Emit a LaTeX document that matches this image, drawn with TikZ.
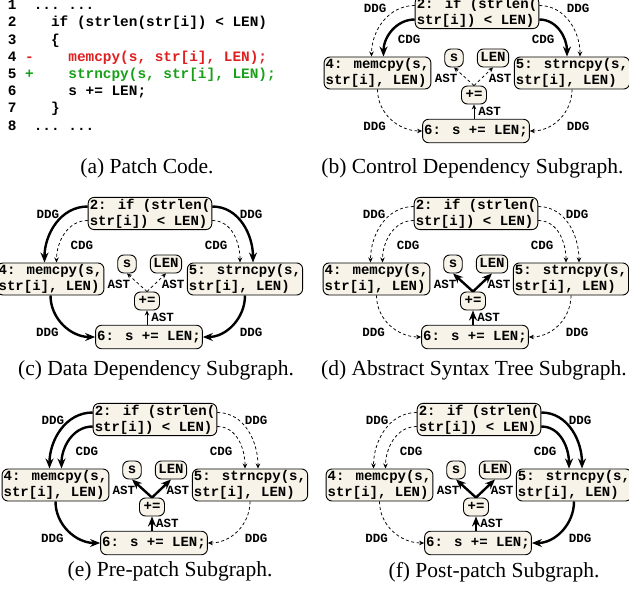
\documentclass[tikz,border=0pt]{standalone}
\usepackage{fontspec}
\setmainfont{Liberation Serif}
\newfontfamily\monofam{Liberation Mono}
\usetikzlibrary{arrows.meta}
\definecolor{nodefill}{RGB}{247,243,232}
\definecolor{delred}{RGB}{224,32,32}
\definecolor{addgreen}{RGB}{24,160,24}
\newcommand\nodefont{\monofam\bfseries\fontsize{14}{16}\selectfont}
\newcommand\lblfont{\monofam\bfseries\fontsize{12.5}{13}\selectfont}
\newcommand\codefont{\monofam\bfseries\fontsize{14.4}{17.2}\selectfont}
\newcommand\capfont{\fontsize{21.5}{24}\selectfont}
\tikzset{
 stmt/.style={draw=black, line width=0.9pt, fill=nodefill, rounded corners=6pt, font=\nodefont, inner xsep=1.6pt, inner ysep=1.5pt},
 stmtone/.style={stmt, text height=10.5pt, text depth=3pt, inner ysep=5pt},
 leafbox/.style={stmt, text height=10pt, text depth=3pt, inner ysep=2.5pt, inner xsep=3pt},
 lbl/.style={font=\lblfont, inner sep=0pt},
 hiedge/.style={line width=2.4pt, -{Stealth[length=10pt,width=8pt]}},
 loedge/.style={line width=0.75pt, dash pattern=on 3pt off 2.5pt, -{Stealth[length=5pt,width=4.5pt]}},
 loplain/.style={line width=0.75pt, -{Stealth[length=5pt,width=4.5pt]}},
 codeline/.style={anchor=base west, inner sep=0pt, font=\codefont},
 subcap/.style={font=\capfont, inner sep=0pt},
}
\newcommand\graphpanel[2]{%
 \node[stmt, align=left] (#1n2) at (150,{213.5+#2}) {2: if (strlen(\\str[i]) < LEN)};
 \node[stmt, align=left] (#1n4) at (50.5,279) {4: memcpy(s,\\str[i], LEN)};
 \node[stmt, align=left] (#1n5) at (245,279) {5: strncpy(s,\\str[i], LEN)};
 \node[leafbox, minimum width=18.5pt] (#1s) at (127,264) {s};
 \node[leafbox] (#1len) at (166,264) {LEN};
 \node[leafbox, minimum width=25pt] (#1plus) at (147,301) {+=};
 \node[stmtone] (#1n6) at (149,337) {6: s += LEN;};
 \draw[eLddg] ([yshift=7pt]#1n2.west) to[out=180,in=90] ([xshift=-6pt]#1n4.north);
 \draw[eLcdg] ([yshift=-7pt]#1n2.west) to[out=180,in=90] ([xshift=6pt]#1n4.north);
 \draw[eRcdg] ([yshift=-7pt]#1n2.east) to[out=0,in=90] ([xshift=-5pt]#1n5.north);
 \draw[eRddg] ([yshift=7pt]#1n2.east) to[out=0,in=90] ([xshift=8pt]#1n5.north);
 \draw[eLbot] (#1n4.south) to[out=-90,in=180] (#1n6.west);
 \draw[eRbot] (#1n5.south) to[out=-90,in=0] (#1n6.east);
 \draw[eAST] (#1plus.north) -- (#1s.south);
 \draw[eAST] (#1plus.north) -- (#1len.south);
 \draw[eASTb] (#1n6.north -| #1plus.south) -- (#1plus.south);
 \node[lbl] (#1lddg) at (48,214) {DDG};
 \node[lbl] (#1rddg) at (251,214) {DDG};
 \node[lbl] (#1lcdg) at (82,245.5) {CDG};
 \node[lbl] (#1rcdg) at (216,245.5) {CDG};
 \node[lbl] (#1last) at (119,284.5) {AST};
 \node[lbl] (#1rast) at (173,284.5) {AST};
 \node[lbl] (#1bast) at (162.5,317) {AST};
 \node[lbl] (#1bddgl) at (47.5,332) {DDG};
 \node[lbl] (#1bddgr) at (251,332) {DDG};
}
\begin{document}
\begin{tikzpicture}[x=1pt,y=-1pt]
\useasboundingbox (0,0) rectangle (629,596);
% (a) listing
\node[codeline] (l1) at (7.7,9.8) {1~~...~...};
\node[codeline] (l2) at (7.7,27) {2~~~~if (strlen(str[i]) < LEN)};
\node[codeline] (l3) at (7.7,44.2) {3~~~~\{};
\node[codeline] (l4) at (7.7,61.4) {4 \textcolor{delred}{-~~~~memcpy(s, str[i], LEN);}};
\node[codeline] (l5) at (7.7,78.6) {5 \textcolor{addgreen}{+~~~~strncpy(s, str[i], LEN);}};
\node[codeline] (l6) at (7.7,95.8) {6~~~~~~s += LEN;};
\node[codeline] (l7) at (7.7,113) {7~~~~\}};
\node[codeline] (l8) at (7.7,130.2) {8~~...~...};
% (b)
\begin{scope}[shift={(327,-206)}, eLddg/.style=loedge, eLcdg/.style=hiedge, eRcdg/.style=hiedge, eRddg/.style=loedge, eLbot/.style=loedge, eRbot/.style=loedge, eAST/.style=loedge, eASTb/.style=loplain]
 \graphpanel{b}{5}
\end{scope}
% (c)
\begin{scope}[shift={(0,0)}, eLddg/.style=hiedge, eLcdg/.style=loedge, eRcdg/.style=loedge, eRddg/.style=hiedge, eLbot/.style=hiedge, eRbot/.style=hiedge, eAST/.style=loedge, eASTb/.style=loplain]
 \graphpanel{c}{0}
\end{scope}
% (d)
\begin{scope}[shift={(326,0)}, eLddg/.style=loedge, eLcdg/.style=loedge, eRcdg/.style=loedge, eRddg/.style=loedge, eLbot/.style=loedge, eRbot/.style=loedge, eAST/.style=hiedge, eASTb/.style=hiedge]
 \graphpanel{d}{0}
\end{scope}
% (e)
\begin{scope}[shift={(5,206)}, eLddg/.style=hiedge, eLcdg/.style=hiedge, eRcdg/.style=loedge, eRddg/.style=loedge, eLbot/.style=hiedge, eRbot/.style=loedge, eAST/.style=hiedge, eASTb/.style=hiedge]
 \graphpanel{e}{0}
\end{scope}
% (f)
\begin{scope}[shift={(329,206)}, eLddg/.style=loedge, eLcdg/.style=loedge, eRcdg/.style=hiedge, eRddg/.style=hiedge, eLbot/.style=loedge, eRbot/.style=hiedge, eAST/.style=hiedge, eASTb/.style=hiedge]
 \graphpanel{f}{0}
\end{scope}
% captions
\node[subcap] (capa) at (147,168) {(a) Patch Code.};
\node[subcap] (capb) at (472.5,168) {(b) Control Dependency Subgraph.};
\node[subcap] (capc) at (156,370) {(c) Data Dependency Subgraph.};
\node[subcap] (capd) at (474,370) {(d) Abstract Syntax Tree Subgraph.};
\node[subcap] (cape) at (170,571) {(e) Pre-patch Subgraph.};
\node[subcap] (capf) at (494,572) {(f) Post-patch Subgraph.};
\end{tikzpicture}
\end{document}
